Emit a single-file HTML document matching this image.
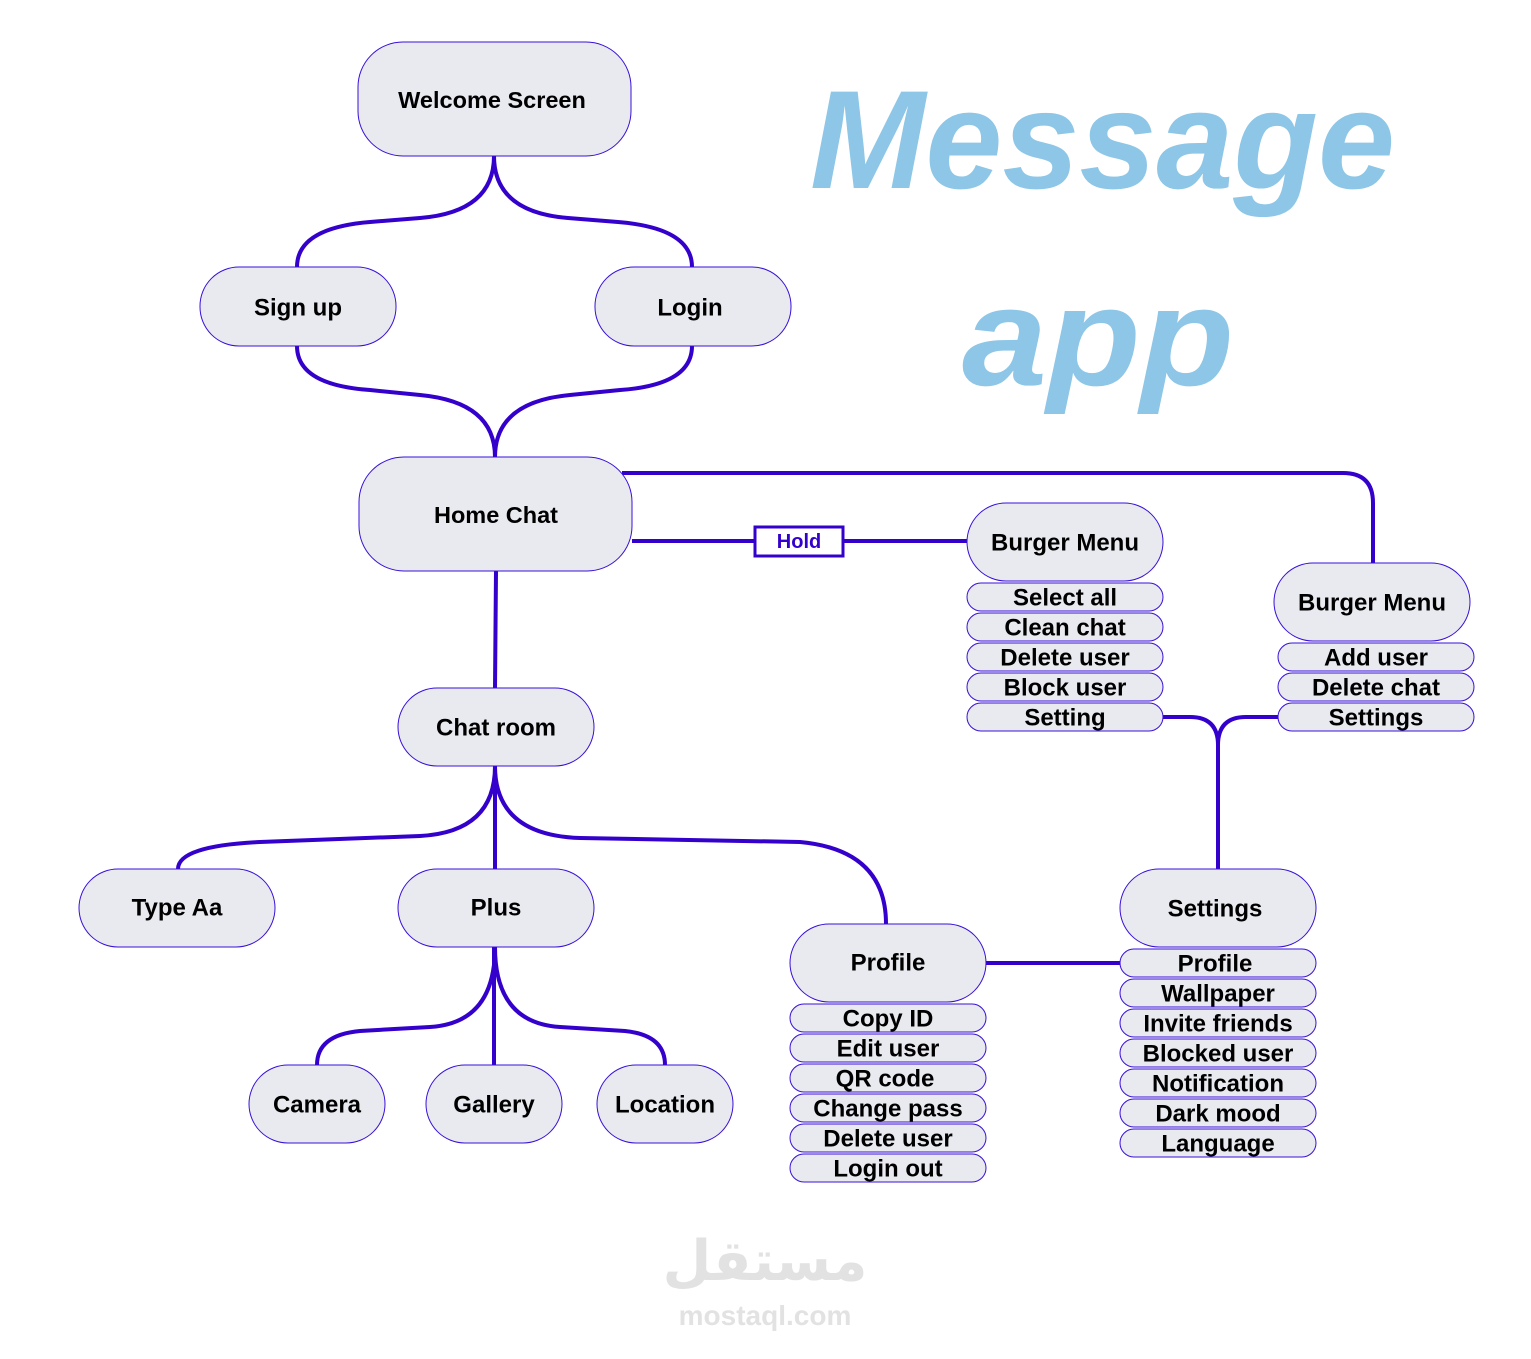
<!DOCTYPE html>
<html><head><meta charset="utf-8"><style>
html,body{margin:0;padding:0;background:#fff;}
svg{display:block;}
.n{fill:#e9eaf0;stroke:#3a10d8;stroke-width:1;}
.t{font-family:"Liberation Sans",sans-serif;font-weight:bold;fill:#000;text-anchor:middle;dominant-baseline:central;}
.c{fill:none;stroke:#3300cc;stroke-width:4;}
</style></head><body>
<svg width="1531" height="1359" viewBox="0 0 1531 1359" xmlns="http://www.w3.org/2000/svg">
<path class="c" d="M494 156 Q494 212 420 218 L370 222 Q297 228 297 267"/>
<path class="c" d="M494 156 Q494 212 568 218 L618 222 Q692 228 692 267"/>
<path class="c" d="M297 346 Q297 385 370 390 L420 395 Q495 402 495 457"/>
<path class="c" d="M692 346 Q692 385 620 390 L570 395 Q495 402 495 457"/>
<path class="c" d="M496 571 L495 688"/>
<path class="c" d="M622 473 L1343 473 Q1373 473 1373 503 L1373 563"/>
<path class="c" d="M632 541 L754 541 M843 541 L967 541"/>
<path class="c" d="M495 766 Q495 832 420 836 L260 842 Q178 846 178 869"/>
<path class="c" d="M495 766 L495 869"/>
<path class="c" d="M495 766 Q495 835 580 838 L800 842 Q886 850 886 924"/>
<path class="c" d="M495 947 Q495 1023 430 1027 L360 1031 Q317 1035 317 1065"/>
<path class="c" d="M494 947 L494 1065"/>
<path class="c" d="M495 947 Q495 1023 560 1027 L625 1031 Q665 1035 665 1065"/>
<path class="c" d="M986 963 L1120 963"/>
<path class="c" d="M1163 717 L1190 717 Q1218 717 1218 745 L1218 869 M1278 717 L1246 717 Q1218 717 1218 745"/>
<rect x="755" y="527" width="88" height="29" fill="#fff" stroke="#3300cc" stroke-width="3"/>
<text class="t" x="799" y="542" style="fill:#3300cc;font-size:20px">Hold</text>
<rect class="n" x="358" y="42" width="273" height="114" rx="45"/><text class="t" x="492" y="100" font-size="23.5">Welcome Screen</text>
<rect class="n" x="200" y="267" width="196" height="79" rx="39"/><text class="t" x="298" y="308" font-size="24">Sign up</text>
<rect class="n" x="595" y="267" width="196" height="79" rx="39"/><text class="t" x="690" y="308" font-size="24">Login</text>
<rect class="n" x="359" y="457" width="273" height="114" rx="45"/><text class="t" x="496" y="515" font-size="23.5">Home Chat</text>
<rect class="n" x="398" y="688" width="196" height="78" rx="39"/><text class="t" x="496" y="728" font-size="24">Chat room</text>
<rect class="n" x="79" y="869" width="196" height="78" rx="39"/><text class="t" x="177" y="908" font-size="24">Type Aa</text>
<rect class="n" x="398" y="869" width="196" height="78" rx="39"/><text class="t" x="496" y="908" font-size="24">Plus</text>
<rect class="n" x="249" y="1065" width="136" height="78" rx="39"/><text class="t" x="317" y="1105" font-size="24">Camera</text>
<rect class="n" x="426" y="1065" width="136" height="78" rx="39"/><text class="t" x="494" y="1105" font-size="24">Gallery</text>
<rect class="n" x="597" y="1065" width="136" height="78" rx="39"/><text class="t" x="665" y="1105" font-size="24">Location</text>
<rect class="n" x="790" y="924" width="196" height="78" rx="39"/><text class="t" x="888" y="963" font-size="24">Profile</text>
<rect class="n" x="967" y="503" width="196" height="78" rx="39"/><text class="t" x="1065" y="543" font-size="24">Burger Menu</text>
<rect class="n" x="1274" y="563" width="196" height="78" rx="39"/><text class="t" x="1372" y="603" font-size="24">Burger Menu</text>
<rect class="n" x="1120" y="869" width="196" height="78" rx="39"/><text class="t" x="1215" y="909" font-size="24">Settings</text>
<g font-size="24">
<rect class="n" x="967" y="583" width="196" height="28" rx="14"/><text class="t" x="1065" y="598">Select all</text>
<rect class="n" x="967" y="613" width="196" height="28" rx="14"/><text class="t" x="1065" y="628">Clean chat</text>
<rect class="n" x="967" y="643" width="196" height="28" rx="14"/><text class="t" x="1065" y="658">Delete user</text>
<rect class="n" x="967" y="673" width="196" height="28" rx="14"/><text class="t" x="1065" y="688">Block user</text>
<rect class="n" x="967" y="703" width="196" height="28" rx="14"/><text class="t" x="1065" y="718">Setting</text>
<rect class="n" x="1278" y="643" width="196" height="28" rx="14"/><text class="t" x="1376" y="658">Add user</text>
<rect class="n" x="1278" y="673" width="196" height="28" rx="14"/><text class="t" x="1376" y="688">Delete chat</text>
<rect class="n" x="1278" y="703" width="196" height="28" rx="14"/><text class="t" x="1376" y="718">Settings</text>
<rect class="n" x="790" y="1004" width="196" height="28" rx="14"/><text class="t" x="888" y="1019">Copy ID</text>
<rect class="n" x="790" y="1034" width="196" height="28" rx="14"/><text class="t" x="888" y="1049">Edit user</text>
<rect class="n" x="790" y="1064" width="196" height="28" rx="14"/><text class="t" x="885" y="1079">QR code</text>
<rect class="n" x="790" y="1094" width="196" height="28" rx="14"/><text class="t" x="888" y="1109">Change pass</text>
<rect class="n" x="790" y="1124" width="196" height="28" rx="14"/><text class="t" x="888" y="1139">Delete user</text>
<rect class="n" x="790" y="1154" width="196" height="28" rx="14"/><text class="t" x="888" y="1169">Login out</text>
<rect class="n" x="1120" y="949" width="196" height="28" rx="14"/><text class="t" x="1215" y="964">Profile</text>
<rect class="n" x="1120" y="979" width="196" height="28" rx="14"/><text class="t" x="1218" y="994">Wallpaper</text>
<rect class="n" x="1120" y="1009" width="196" height="28" rx="14"/><text class="t" x="1218" y="1024">Invite friends</text>
<rect class="n" x="1120" y="1039" width="196" height="28" rx="14"/><text class="t" x="1218" y="1054">Blocked user</text>
<rect class="n" x="1120" y="1069" width="196" height="28" rx="14"/><text class="t" x="1218" y="1084">Notification</text>
<rect class="n" x="1120" y="1099" width="196" height="28" rx="14"/><text class="t" x="1218" y="1114">Dark mood</text>
<rect class="n" x="1120" y="1129" width="196" height="28" rx="14"/><text class="t" x="1218" y="1144">Language</text>
</g>
<text x="810" y="188" font-family="Liberation Sans,sans-serif" font-style="italic" font-weight="bold" font-size="140" fill="#8dc6e6" textLength="585" lengthAdjust="spacingAndGlyphs">Message</text>
<text x="962" y="385" font-family="Liberation Sans,sans-serif" font-style="italic" font-weight="bold" font-size="140" fill="#8dc6e6" textLength="272" lengthAdjust="spacingAndGlyphs">app</text>
<text x="765" y="1280" text-anchor="middle" font-family="'Noto Sans CJK SC','DejaVu Sans',sans-serif" font-weight="bold" font-size="56" fill="#e2e2e2">مستقل</text>
<text x="765" y="1325" text-anchor="middle" font-family="Liberation Sans,sans-serif" font-weight="bold" font-size="28" fill="#e2e2e2">mostaql.com</text>
</svg>
</body></html>
